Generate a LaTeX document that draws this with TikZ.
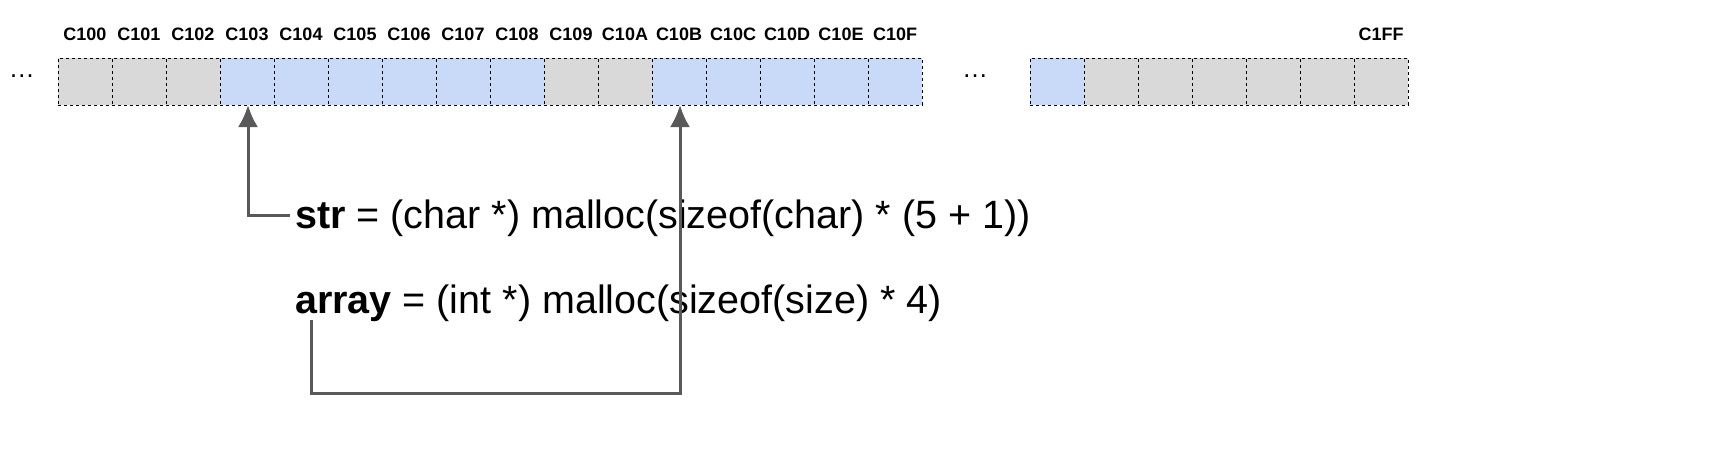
\documentclass[tikz,border=0pt]{standalone}
\usepackage{fontspec}
\setmainfont{Liberation Sans}
\usetikzlibrary{positioning}
\definecolor{cellgray}{HTML}{D9D9D9}
\definecolor{cellblue}{HTML}{C9DAF8}
\definecolor{arrowgray}{HTML}{595959}
\tikzset{
  cell/.style={draw, dashed, minimum width=54pt, minimum height=47pt, inner sep=0pt, anchor=north west},
  addr/.style={font=\fontsize{18}{20}\selectfont\bfseries},
  code/.style={font=\fontsize{39.5}{44}\selectfont, anchor=base west, inner sep=0pt},
  ptr/.style={draw=arrowgray, line width=3pt, -{Latex[length=22pt,width=20pt]}}
}
\usetikzlibrary{arrows.meta}
\begin{document}
\begin{tikzpicture}[x=1pt,y=-1pt]
    \useasboundingbox (0,0) rectangle (1728,460);
    % first block of cells
    \foreach \i/\lab/\col in {0/C100/cellgray,1/C101/cellgray,2/C102/cellgray,3/C103/cellblue,
        4/C104/cellblue,5/C105/cellblue,6/C106/cellblue,7/C107/cellblue,8/C108/cellblue,
        9/C109/cellgray,10/C10A/cellgray,11/C10B/cellblue,12/C10C/cellblue,13/C10D/cellblue,
        14/C10E/cellblue,15/C10F/cellblue} {
        \node[cell, fill=\col] (c\i) at (58+54*\i,58) {};
        \node[addr] (l\i) at (85+54*\i,34) {\lab};
    }
    % second block
    \foreach \i/\col in {0/cellblue,1/cellgray,2/cellgray,3/cellgray,4/cellgray,5/cellgray,6/cellgray} {
        \node[cell, fill=\col] (d\i) at (1030+54*\i,58) {};
    }
    \node[addr] (lff) at (1381,34) {C1FF};
    \node (dots1) at (22,76) {\fontsize{26}{26}\selectfont\dots};
    \node (dots2) at (975,76) {\fontsize{26}{26}\selectfont\dots};

    \node[code] (str) at (295,228) {\textbf{str} = (char *) malloc(sizeof(char) * (5 + 1))};
    \node[code] (arr) at (295,313) {\textbf{array} = (int *) malloc(sizeof(size) * 4)};

    \coordinate (strin) at (290,215);
    \coordinate (arrout) at (311,320);
    \draw[ptr] (strin) -| (248,105);
    \draw[ptr] (arrout) |- (680,393) -- (680,105);
\end{tikzpicture}
\end{document}
